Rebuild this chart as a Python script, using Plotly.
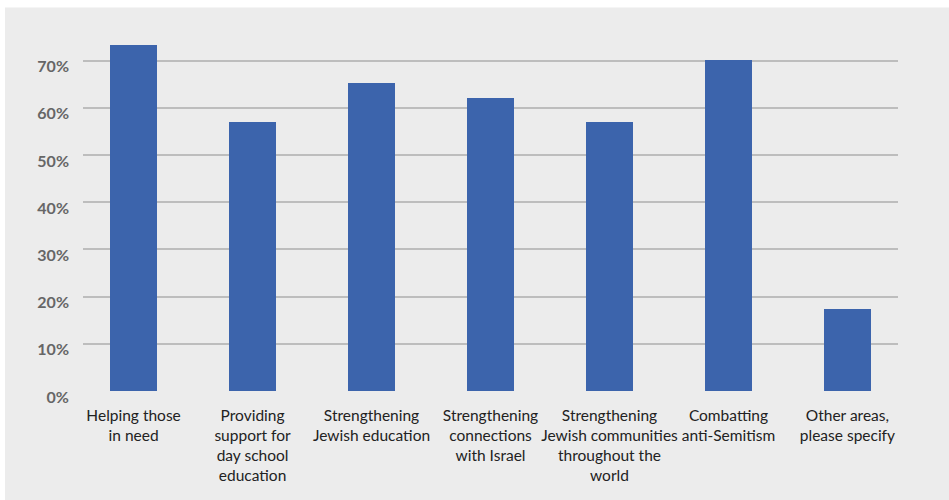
import plotly.graph_objects as go

categories = [
    "Helping those<br>in need",
    "Providing<br>support for<br>day school<br>education",
    "Strengthening<br>Jewish education",
    "Strengthening<br>connections<br>with Israel",
    "Strengthening<br>Jewish communities<br>throughout the<br>world",
    "Combatting<br>anti-Semitism",
    "Other areas,<br>please specify",
]
values = [73.4, 57.0, 65.3, 62.0, 57.0, 70.2, 17.4]
y_ticks = [0, 10, 20, 30, 40, 50, 60, 70]
y_tick_labels = ["0%", "10%", "20%", "30%", "40%", "50%", "60%", "70%"]

W, H = 949, 500
L, R = 83, 898
T, B = 37.4, 391
pw, ph = R - L, B - T

fig = go.Figure(go.Bar(
    x=list(range(len(categories))), y=values,
    marker=dict(color="#3c64ac", line=dict(width=0)),
    width=0.395,
))

fig.add_shape(type="rect", xref="paper", yref="paper", layer="below",
              x0=(5 - L) / pw, x1=(W - L) / pw + 0.01,
              y0=(B - H) / ph - 0.01, y1=(B - 8) / ph,
              fillcolor="#ececec", line=dict(width=0))

fig.update_layout(
    width=W, height=H,
    margin=dict(l=L, r=W - R, t=T, b=H - B, pad=0),
    paper_bgcolor="white", plot_bgcolor="#ececec",
    showlegend=False, bargap=0,
    xaxis=dict(
        tickmode="array", tickvals=list(range(len(categories))), ticktext=categories,
        range=[-0.425, 6.425], showgrid=False, zeroline=False, showline=False,
        ticks="", tickangle=0, automargin=False, ticklabelstandoff=13,
        tickfont=dict(family="Lato", size=15.5, color="#222222"),
    ),
    yaxis=dict(
        range=[0, 75], tickmode="array", tickvals=y_ticks, ticktext=y_tick_labels,
        showgrid=True, gridcolor="#bdbdbd", gridwidth=1.6, zeroline=False,
        ticks="", ticklabelstandoff=13, ticklabelshift=6, automargin=False,
        tickfont=dict(family="Lato", size=16, color="#666666", weight=700),
    ),
)

fig.write_html("out.html", config={"displayModeBar": False},
               post_script="document.body.style.margin='0';")
